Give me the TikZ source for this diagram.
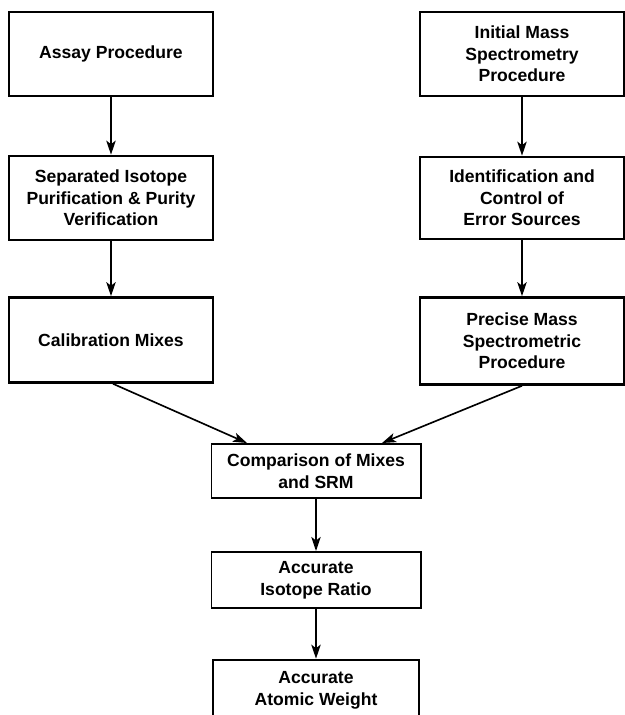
\documentclass[tikz,border=0pt]{standalone}
\usepackage{fontspec}
\setmainfont{Liberation Sans}
\usetikzlibrary{arrows.meta,calc}
\tikzset{
  stepbox/.style={draw, line width=2.2pt, minimum width=6.12cm, align=center,
    inner sep=0pt, font=\bfseries\fontsize{15}{18.5}\selectfont},
  midbox/.style={stepbox, line width=1.7pt, minimum width=6.27cm},
  flow/.style={-{Stealth[length=12pt,width=8pt,inset=3pt]}, line width=1.4pt},
}
\begin{document}
\begin{tikzpicture}[x=0.03cm,y=-0.03cm]
        \useasboundingbox (0,0) rectangle (625,715);
        %% Left column
        \node[stepbox, minimum height=2.52cm] (assay) at (111,54) {Assay Procedure};
        \node[stepbox, minimum height=2.52cm] (purify) at (111,198)
            {Separated Isotope\\Purification \& Purity\\Verification};
        \node[stepbox, minimum height=2.55cm] (calib) at (111,340) {Calibration Mixes};
        %% Right column
        \node[stepbox, minimum height=2.52cm] (initial) at (522,54)
            {Initial Mass\\Spectrometry\\Procedure};
        \node[stepbox, minimum height=2.46cm] (errors) at (522,198)
            {Identification and\\Control of\\Error Sources};
        \node[stepbox, minimum height=2.61cm] (precise) at (522,341)
            {Precise Mass\\Spectrometric\\Procedure};
        %% Middle column
        \node[midbox, minimum height=1.62cm] (compare) at (316,471)
            {Comparison of Mixes\\and SRM};
        \node[midbox, minimum height=1.68cm] (ratio) at (316,580)
            {Accurate\\Isotope Ratio};
        \node[stepbox, minimum width=6.18cm, minimum height=1.80cm] (weight) at (316,690)
            {Accurate\\Atomic Weight};
        %% Arrows
        \draw[flow] (assay) -- (purify);
        \draw[flow] (purify) -- (calib);
        \draw[flow] (initial) -- (errors);
        \draw[flow] (errors) -- (precise);
        \draw[flow] ($(calib.south)+(2,0)$) -- ($(compare.north)+(-69,0)$);
        \draw[flow] (precise.south) -- ($(compare.north)+(66,0)$);
        \draw[flow] (compare) -- (ratio);
        \draw[flow] (ratio) -- (weight);
    \end{tikzpicture}
\end{document}
